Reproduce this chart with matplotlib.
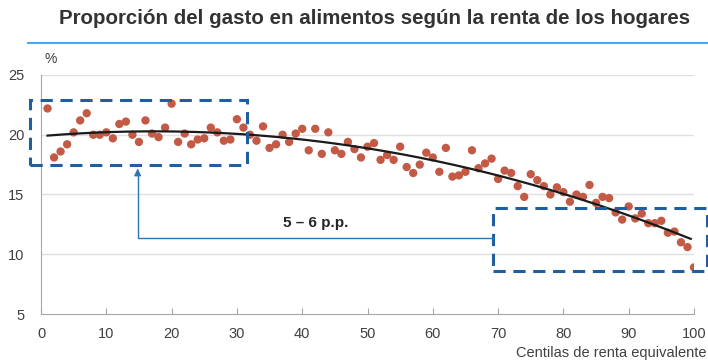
import numpy as np
import matplotlib
matplotlib.use('Agg')
from matplotlib import pyplot as plt
from matplotlib.patches import Rectangle

plt.rcParams['font.family'] = ['Liberation Sans Narrow', 'Liberation Sans', 'DejaVu Sans']

# --- Data: food spending share (%) by equivalent income centile

centiles = list(range(1, 101))
share = [
    22.2, 18.1, 18.6, 19.2, 20.2, 21.2, 21.8, 20.0, 20.0, 20.2,
    19.7, 20.9, 21.1, 20.0, 19.4, 21.2, 20.1, 19.8, 20.6, 22.6,
    19.4, 20.1, 19.2, 19.6, 19.7, 20.6, 20.2, 19.5, 19.6, 21.3,
    20.6, 20.0, 19.5, 20.7, 18.9, 19.2, 20.0, 19.4, 20.1, 20.5,
    18.7, 20.5, 18.4, 20.2, 18.7, 18.4, 19.4, 18.8, 18.1, 19.0,
    19.3, 17.9, 18.3, 17.9, 19.0, 17.3, 16.8, 17.5, 18.5, 18.1,
    16.9, 18.9, 16.5, 16.6, 16.9, 18.7, 17.2, 17.6, 18.0, 16.3,
    17.0, 16.8, 15.7, 14.8, 16.7, 16.2, 15.7, 15.0, 15.6, 15.2,
    14.4, 15.0, 14.8, 15.8, 14.3, 14.8, 14.7, 13.5, 12.9, 14.0,
    13.0, 13.4, 12.6, 12.6, 12.8, 11.8, 11.9, 11.0, 10.6, 8.9,
]

x_ticks = [0, 10, 20, 30, 40, 50, 60, 70, 80, 90, 100]
y_ticks = [5, 10, 15, 20, 25]

# highlighted ranges: (x0, x1, y0, y1)
box_low = (-1.7, 31.5, 17.5, 22.9)
box_high = (69.2, 102.0, 8.6, 13.9)
gap_label = '5 – 6 p.p.'

# quadratic trend through the scatter
coef = np.polyfit(centiles, share, 2)
trend_x = np.linspace(1, 99.5, 200)
trend_y = np.polyval(coef, trend_x)

# --- Plot

fig = plt.figure(figsize=(7.08, 3.62), dpi=100)
ax = fig.add_axes([41/708, 1 - 314/362, (694 - 41)/708, (314 - 75)/362])

text_col = '#404040'
grid_col = '#e0e0e0'
box_col = '#1f5f9f'

for y in y_ticks[1:]:
    ax.axhline(y, color=grid_col, lw=1.0, zorder=0)

ax.scatter(centiles, share, s=36, color='#c25a45', edgecolors='none', zorder=2)
ax.plot(trend_x, trend_y, color='#1a1a1a', lw=1.6, zorder=3)

ax.set_xlim(0, 100)
ax.set_ylim(5, 25)
ax.set_xticks(x_ticks)
ax.set_yticks(y_ticks)
for s in ['top', 'right']:
    ax.spines[s].set_visible(False)
for s in ['left', 'bottom']:
    ax.spines[s].set_color('#a6a6a6')
ax.tick_params(axis='x', direction='in', length=4, color='#a6a6a6', pad=9,
               labelsize=10.5, labelcolor=text_col)
ax.tick_params(axis='y', length=0, pad=12, labelsize=10.5, labelcolor=text_col)

# dashed highlight boxes
for (x0, x1, y0, y1) in [box_low, box_high]:
    r = Rectangle((x0, y0), x1 - x0, y1 - y0, fill=False, ec=box_col, lw=2.2,
                  ls=(0, (4, 2.5)), clip_on=False, zorder=4)
    ax.add_patch(r)

# connector from the high-income box to the low-income box
arrow_y = 11.35
ax.plot([box_high[0], 14.8, 14.8], [arrow_y, arrow_y, box_low[2] - 0.6],
        color='#2e75b6', lw=1.0, clip_on=False, zorder=4)
ax.annotate('', xy=(14.8, box_low[2] - 0.1), xytext=(14.8, box_low[2] - 0.8),
            arrowprops=dict(arrowstyle='-|>', color='#2e75b6', lw=1.0,
                            mutation_scale=10))
ax.text(42, 12.6, gap_label, ha='center', va='center', fontsize=11,
        fontweight='bold', color='#262626')

ax.text(0.5, 26.3, '%', ha='left', va='center', fontsize=10, color=text_col)

fig.text(375/708, 1 - 18/362, 'Proporción del gasto en alimentos según la renta de los hogares',
         ha='center', va='center', fontsize=14.8, fontweight='bold', color='#333333')
fig.add_artist(plt.Line2D([28/708, 1.0], [1 - 43/362, 1 - 43/362], color='#4aa8f0', lw=1.5))
fig.text(706/708, 1 - 353/362, 'Centilas de renta equivalente', ha='right', va='center',
         fontsize=10.5, color=text_col)

plt.savefig('out.png', dpi=100)
